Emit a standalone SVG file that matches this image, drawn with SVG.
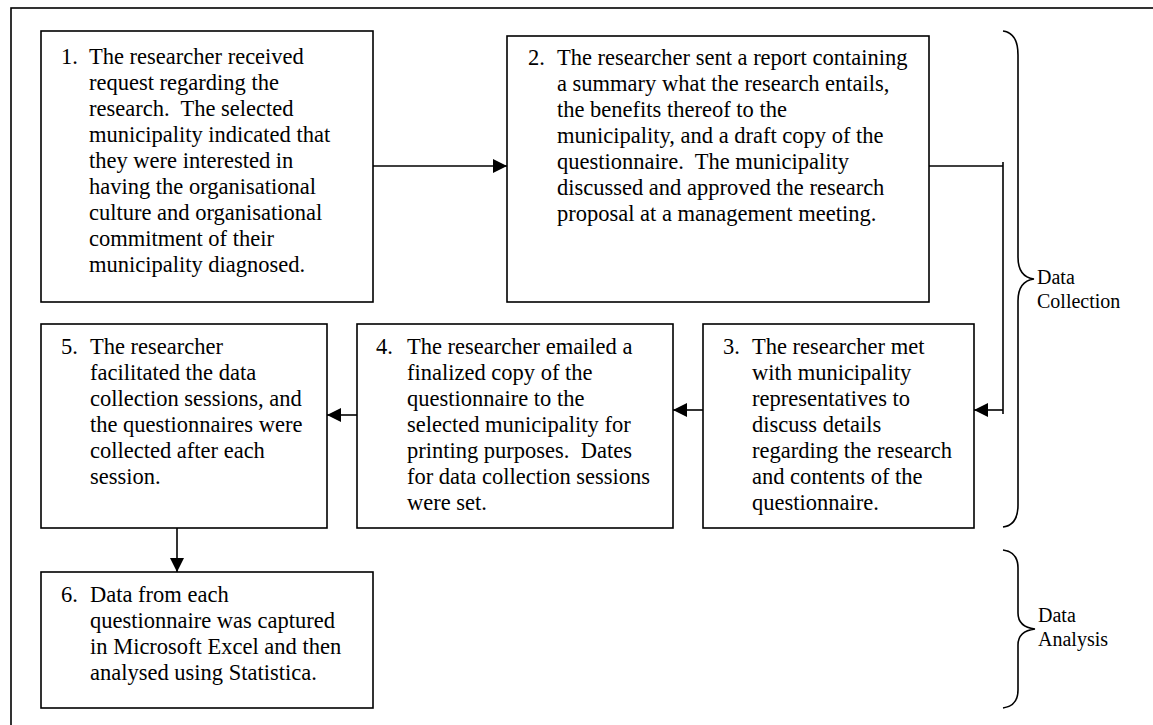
<svg xmlns="http://www.w3.org/2000/svg" width="1153" height="725" viewBox="0 0 1153 725">
<style>
.box{fill:#fff;stroke:#000;stroke-width:1.6}
.t{font-family:"Liberation Serif","Times New Roman",serif;font-size:22.5px;fill:#000;white-space:pre}
.l{font-family:"Liberation Serif","Times New Roman",serif;font-size:20px;fill:#000}
.c{fill:none;stroke:#000;stroke-width:1.6}
</style>
<defs>
<marker id="ah" viewBox="0 0 14 14" refX="14" refY="7" markerWidth="14" markerHeight="14" markerUnits="userSpaceOnUse" orient="auto">
<path d="M0,0 L14,7 L0,14 Z" fill="#000"/>
</marker>
</defs>
<rect x="11" y="8" width="1200" height="760" fill="none" stroke="#000" stroke-width="1.6"/>
<g id="connectors">
<line class="c" x1="373" y1="166" x2="507" y2="166" marker-end="url(#ah)"/>
<polyline class="c" points="929,166 1003,166"/>
<line class="c" x1="1003" y1="162" x2="1003" y2="414"/>
<line class="c" x1="1003" y1="410" x2="974" y2="410" marker-end="url(#ah)"/>
<line class="c" x1="703" y1="410" x2="673" y2="410" marker-end="url(#ah)"/>
<line class="c" x1="357" y1="415" x2="327" y2="415" marker-end="url(#ah)"/>
<line class="c" x1="177" y1="528" x2="177" y2="572" marker-end="url(#ah)"/>
</g>
<g id="node1">
<rect class="box" x="41" y="31" width="332" height="271"/>
<text class="t" x="61" y="64">1.</text>
<text class="t" x="89" y="64">The researcher received</text>
<text class="t" x="89" y="90">request regarding the</text>
<text class="t" x="89" y="116">research.  The selected</text>
<text class="t" x="89" y="142">municipality indicated that</text>
<text class="t" x="89" y="168">they were interested in</text>
<text class="t" x="89" y="194">having the organisational</text>
<text class="t" x="89" y="220">culture and organisational</text>
<text class="t" x="89" y="246">commitment of their</text>
<text class="t" x="89" y="272">municipality diagnosed.</text>
</g>
<g id="node2">
<rect class="box" x="507" y="36" width="422" height="266"/>
<text class="t" x="528" y="65">2.</text>
<text class="t" x="557" y="65">The researcher sent a report containing</text>
<text class="t" x="557" y="91">a summary what the research entails,</text>
<text class="t" x="557" y="117">the benefits thereof to the</text>
<text class="t" x="557" y="143">municipality, and a draft copy of the</text>
<text class="t" x="557" y="169">questionnaire.  The municipality</text>
<text class="t" x="557" y="195">discussed and approved the research</text>
<text class="t" x="557" y="221">proposal at a management meeting.</text>
</g>
<g id="node3">
<rect class="box" x="703" y="324" width="271" height="204"/>
<text class="t" x="723" y="354">3.</text>
<text class="t" x="752" y="354">The researcher met</text>
<text class="t" x="752" y="380">with municipality</text>
<text class="t" x="752" y="406">representatives to</text>
<text class="t" x="752" y="432">discuss details</text>
<text class="t" x="752" y="458">regarding the research</text>
<text class="t" x="752" y="484">and contents of the</text>
<text class="t" x="752" y="510">questionnaire.</text>
</g>
<g id="node4">
<rect class="box" x="357" y="324" width="316" height="204"/>
<text class="t" x="376" y="354">4.</text>
<text class="t" x="407" y="354">The researcher emailed a</text>
<text class="t" x="407" y="380">finalized copy of the</text>
<text class="t" x="407" y="406">questionnaire to the</text>
<text class="t" x="407" y="432">selected municipality for</text>
<text class="t" x="407" y="458">printing purposes.  Dates</text>
<text class="t" x="407" y="484">for data collection sessions</text>
<text class="t" x="407" y="510">were set.</text>
</g>
<g id="node5">
<rect class="box" x="41" y="324" width="286" height="204"/>
<text class="t" x="61" y="354">5.</text>
<text class="t" x="90" y="354">The researcher</text>
<text class="t" x="90" y="380">facilitated the data</text>
<text class="t" x="90" y="406">collection sessions, and</text>
<text class="t" x="90" y="432">the questionnaires were</text>
<text class="t" x="90" y="458">collected after each</text>
<text class="t" x="90" y="484">session.</text>
</g>
<g id="node6">
<rect class="box" x="41" y="572" width="332" height="136"/>
<text class="t" x="61" y="602">6.</text>
<text class="t" x="90" y="602">Data from each</text>
<text class="t" x="90" y="628">questionnaire was captured</text>
<text class="t" x="90" y="654">in Microsoft Excel and then</text>
<text class="t" x="90" y="680">analysed using Statistica.</text>
</g>
<g id="brace-collection">
<path class="c" d="M1003,31 Q1018,33 1018,55 L1018,257 Q1018,277 1034,279 Q1018,281 1018,301 L1018,505 Q1018,525 1003,527"/>
<text class="l" x="1037" y="284">Data</text>
<text class="l" x="1037" y="308">Collection</text>
</g>
<g id="brace-analysis">
<path class="c" d="M1003,550 Q1018,552 1018,568 L1018,613 Q1018,627 1035,629 Q1018,631 1018,645 L1018,690 Q1018,706 1003,708"/>
<text class="l" x="1038" y="622">Data</text>
<text class="l" x="1038" y="646">Analysis</text>
</g>
</svg>
